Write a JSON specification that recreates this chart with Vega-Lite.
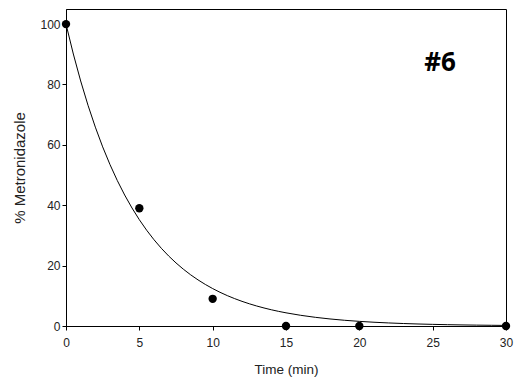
{
  "$schema": "https://vega.github.io/schema/vega-lite/v6.json",
  "width": 440,
  "height": 317,
  "autosize": "none",
  "padding": {"left": 66, "top": 9, "right": 8, "bottom": 57},
  "background": "white",
  "config": {
    "view": {"stroke": "black", "strokeWidth": 1},
    "axis": {
      "grid": false,
      "domainColor": "black",
      "tickColor": "black",
      "tickSize": 4,
      "labelFont": "Liberation Sans",
      "labelFontSize": 12,
      "labelColor": "#222",
      "labelFlush": false,
      "titleFont": "Liberation Sans",
      "titleFontWeight": "normal",
      "titleColor": "#222"
    }
  },
  "datasets": {
    "obs": [
      {"t": 0, "pct": 100},
      {"t": 5, "pct": 39},
      {"t": 10, "pct": 9},
      {"t": 15, "pct": 0},
      {"t": 20, "pct": 0},
      {"t": 30, "pct": 0}
    ],
    "fit": [
      {"t": 0, "pct": 100},
      {"t": 0.5, "pct": 90.087},
      {"t": 1, "pct": 81.157},
      {"t": 1.5, "pct": 73.112},
      {"t": 2, "pct": 65.865},
      {"t": 2.5, "pct": 59.336},
      {"t": 3, "pct": 53.454},
      {"t": 3.5, "pct": 48.155},
      {"t": 4, "pct": 43.382},
      {"t": 4.5, "pct": 39.081},
      {"t": 5, "pct": 35.207},
      {"t": 5.5, "pct": 31.717},
      {"t": 6, "pct": 28.573},
      {"t": 6.5, "pct": 25.741},
      {"t": 7, "pct": 23.189},
      {"t": 7.5, "pct": 20.891},
      {"t": 8, "pct": 18.82},
      {"t": 8.5, "pct": 16.954},
      {"t": 9, "pct": 15.274},
      {"t": 9.5, "pct": 13.76},
      {"t": 10, "pct": 12.396},
      {"t": 10.5, "pct": 11.167},
      {"t": 11, "pct": 10.06},
      {"t": 11.5, "pct": 9.063},
      {"t": 12, "pct": 8.164},
      {"t": 12.5, "pct": 7.355},
      {"t": 13, "pct": 6.626},
      {"t": 13.5, "pct": 5.969},
      {"t": 14, "pct": 5.377},
      {"t": 14.5, "pct": 4.844},
      {"t": 15, "pct": 4.364},
      {"t": 16, "pct": 3.542},
      {"t": 17, "pct": 2.875},
      {"t": 18, "pct": 2.333},
      {"t": 19, "pct": 1.894},
      {"t": 20, "pct": 1.537},
      {"t": 21, "pct": 1.247},
      {"t": 22, "pct": 1.012},
      {"t": 23, "pct": 0.822},
      {"t": 24, "pct": 0.667},
      {"t": 25, "pct": 0.541},
      {"t": 26, "pct": 0.439},
      {"t": 27, "pct": 0.356},
      {"t": 28, "pct": 0.289},
      {"t": 29, "pct": 0.235},
      {"t": 30, "pct": 0.191}
    ]
  },
  "layer": [
    {
      "data": {"name": "fit"},
      "mark": {"type": "line", "color": "black", "strokeWidth": 1, "clip": true},
      "encoding": {
        "x": {
          "field": "t", "type": "quantitative",
          "scale": {"domain": [0, 30], "nice": false, "zero": false},
          "axis": {"values": [0, 5, 10, 15, 20, 25, 30], "title": "Time (min)", "titleFontSize": 13.5, "titlePadding": 14, "labelPadding": 7}
        },
        "y": {
          "field": "pct", "type": "quantitative",
          "scale": {"domain": [0, 105], "nice": false},
          "axis": {"values": [0, 20, 40, 60, 80, 100], "title": "% Metronidazole", "titleFontSize": 15, "titlePadding": 12, "labelPadding": 2}
        }
      }
    },
    {
      "data": {"name": "obs"},
      "mark": {"type": "point", "filled": true, "color": "black", "opacity": 1, "size": 70, "clip": false},
      "encoding": {
        "x": {"field": "t", "type": "quantitative"},
        "y": {"field": "pct", "type": "quantitative"}
      }
    },
    {
      "data": {"values": [{"label": "#6"}]},
      "mark": {"type": "text", "font": "Open Sans", "fontWeight": "bold", "fontSize": 26, "color": "black", "align": "center", "baseline": "middle"},
      "encoding": {
        "x": {"datum": 25.5, "type": "quantitative"},
        "y": {"datum": 87, "type": "quantitative"},
        "text": {"field": "label"}
      }
    }
  ]
}
